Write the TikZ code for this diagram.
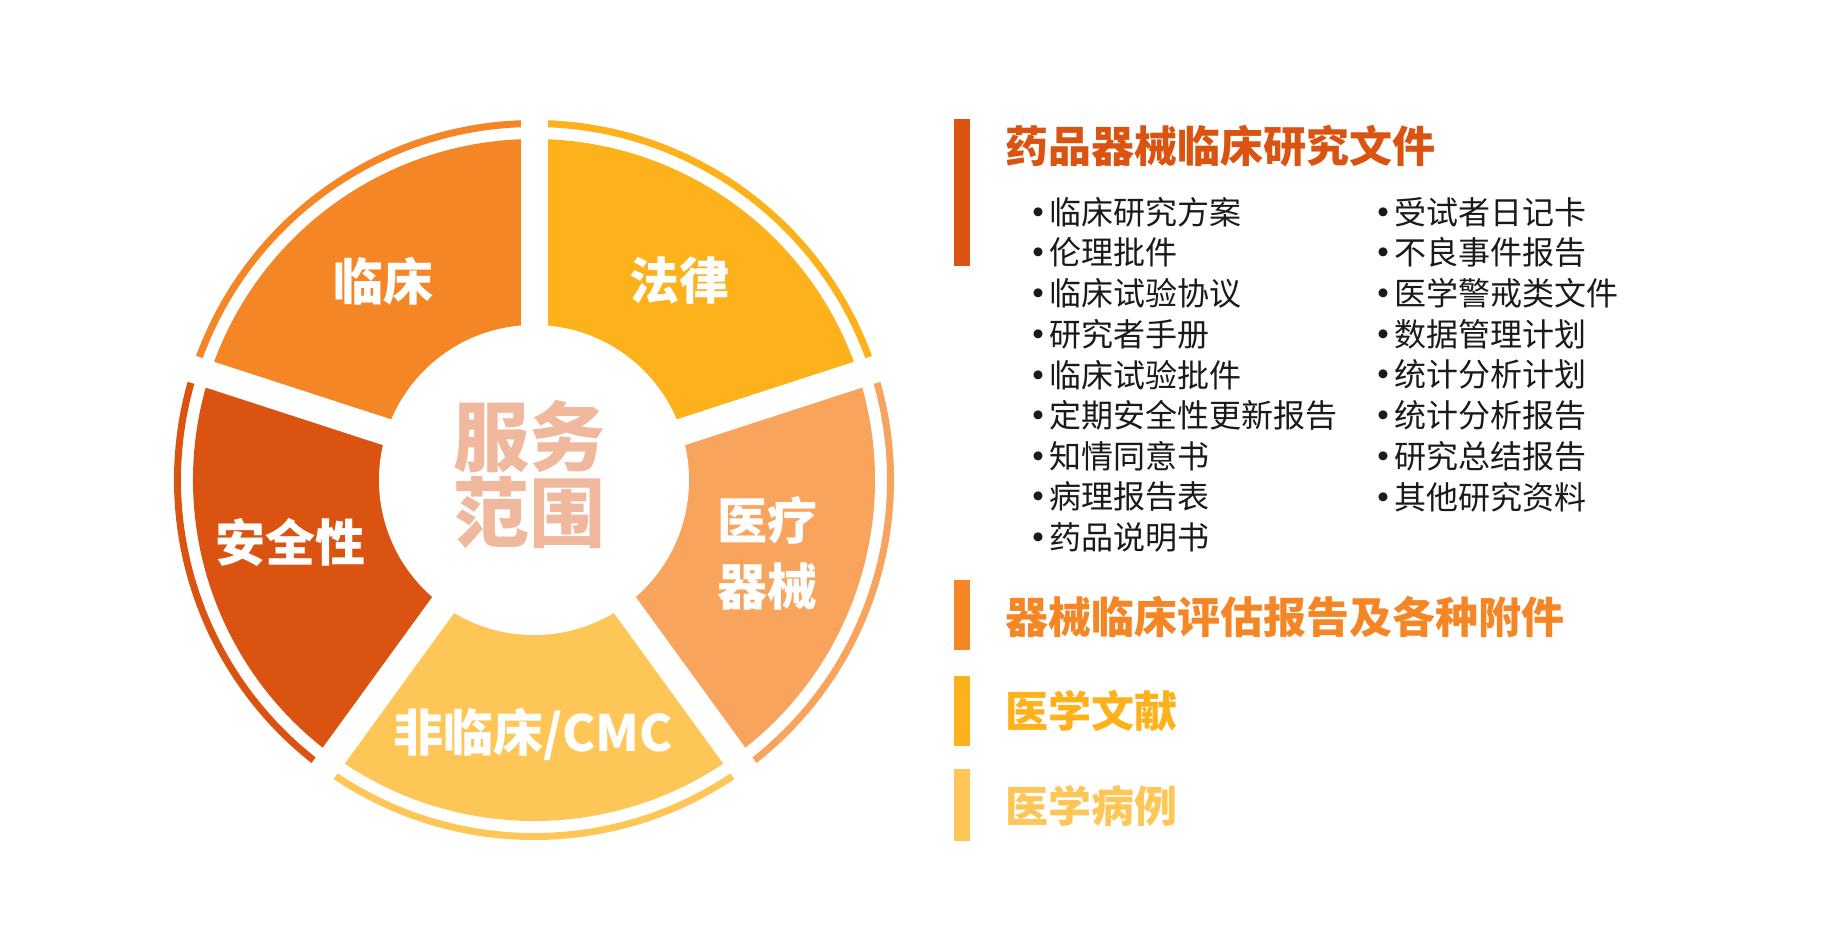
\documentclass[tikz,border=0pt]{standalone}
\usepackage{fontspec}
\newfontfamily\cjk{Noto Sans CJK SC}
\definecolor{cA}{HTML}{F58626}
\definecolor{cB}{HTML}{FDB11B}
\definecolor{cC}{HTML}{F8A45D}
\definecolor{cD}{HTML}{FEC656}
\definecolor{cE}{HTML}{DB5310}
\definecolor{cT}{HTML}{F0B99E}
\definecolor{cTxt}{HTML}{1A1A1A}
\newcommand{\bulletitem}[1]{\hspace{-11pt}\makebox[0pt][c]{\bfseries ·}\hspace{11pt}#1}
\begin{document}
\begin{tikzpicture}[x=1pt,y=-1pt,
  seglabel/.style={text=white, font=\cjk\bfseries\fontsize{50}{66}\selectfont, inner sep=0, align=center},
  centerlabel/.style={text=cT, font=\cjk\bfseries\fontsize{76}{80}\selectfont, inner sep=0},
  headline/.style={font=\cjk\bfseries\fontsize{43}{50}\selectfont, inner sep=0, anchor=west},
  listitem/.style={text=cTxt, font=\cjk\fontsize{32}{36}\selectfont, inner sep=0, anchor=west},
  gapline/.style={white, line width=27pt},
  ringarc/.style={line width=7pt}]
\useasboundingbox[fill=white] (0,0) rectangle (1836,941);

% ---------- pie ----------
\begin{scope}[shift={(534,480)}, yscale=-1]
  \def\R{341}
  \def\Rr{356.5}
  \foreach \a/\b/\c in {90/162/cA, 18/90/cB, -54/18/cC, -126/-54/cD, 162/234/cE}{
    \fill[\c] (0,0) -- (\a:\R) arc[start angle=\a, end angle=\b, radius=\R] -- cycle;
    \draw[\c, ringarc] (\a:\Rr) arc[start angle=\a, end angle=\b, radius=\Rr];
  }
  \foreach \g in {18,90,162,234,306}{
    \draw[gapline] (0,0) -- (\g:380);
  }
  \fill[white] (0,0) circle[radius=155];
\end{scope}

\node[seglabel] (linchuang) at (383,281) {临床};
\node[seglabel] (falv) at (679,281) {法律};
\node[seglabel] (anquan) at (290,542) {安全性};
\node[seglabel] (qixie) at (767,553) {医疗\\器械};
\node[seglabel] (feilin) at (533,734) {非临床/CMC};
\node[centerlabel] (fuwu) at (529,437) {服务};
\node[centerlabel] (fanwei) at (529,513) {范围};

% ---------- right panel ----------
\fill[cE] (954,119) rectangle (970,266);
\fill[cA] (954,580) rectangle (970,650);
\fill[cB] (954,676) rectangle (970,746);
\fill[cD] (954,769) rectangle (970,841);

\node[headline, text=cE] (h1) at (1005,146) {药品器械临床研究文件};
\node[headline, text=cA] (h2) at (1005,617) {器械临床评估报告及各种附件};
\node[headline, text=cB] (h3) at (1005,711) {医学文献};
\node[headline, text=cD] (h4) at (1005,806) {医学病例};

\foreach \t [count=\i] in {临床研究方案,伦理批件,临床试验协议,研究者手册,临床试验批件,定期安全性更新报告,知情同意书,病理报告表,药品说明书}{
  \pgfmathsetmacro\yy{212+40.7*(\i-1)}
  \node[listitem] (la\i) at (1049,\yy) {\bulletitem{\t}};
}
\foreach \t [count=\i] in {受试者日记卡,不良事件报告,医学警戒类文件,数据管理计划,统计分析计划,统计分析报告,研究总结报告,其他研究资料}{
  \pgfmathsetmacro\yy{212+40.7*(\i-1)}
  \node[listitem] (lb\i) at (1394,\yy) {\bulletitem{\t}};
}
\end{tikzpicture}
\end{document}
